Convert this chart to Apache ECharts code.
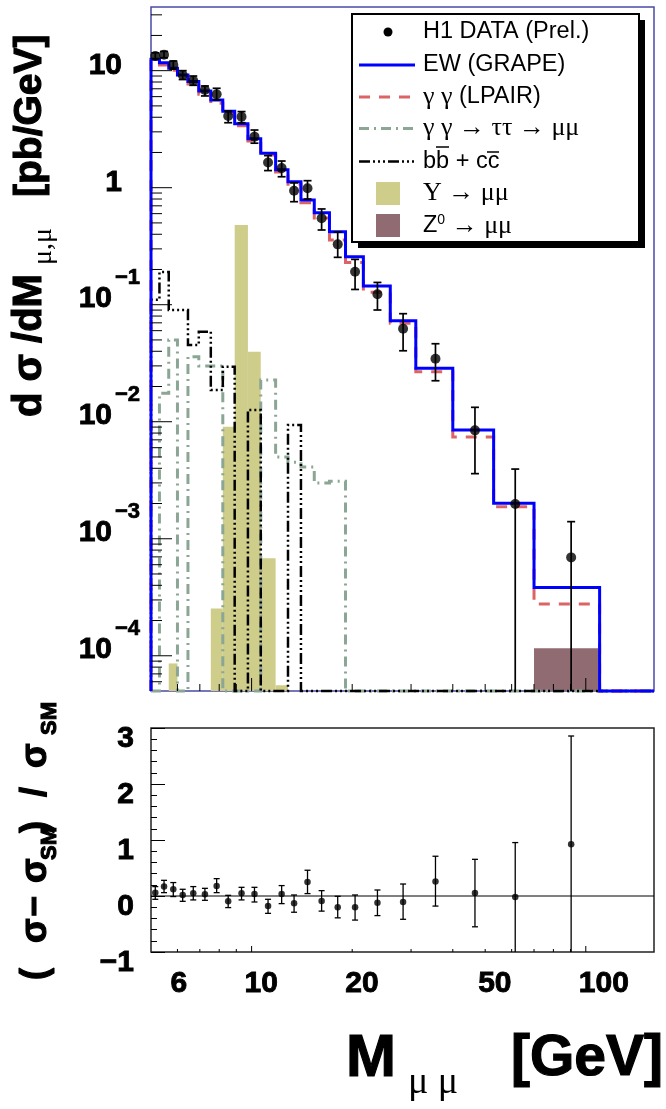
<!DOCTYPE html>
<html><head><meta charset="utf-8">
<script src="https://cdn.jsdelivr.net/npm/echarts@6.0.0/dist/echarts.min.js"></script>
<style>html,body{margin:0;padding:0;background:#fff}#c{width:666px;height:1109px}</style>
</head><body><div id="c"></div>
<script>
// ---------------- DATA ----------------
const binEdges = [5, 5.3, 5.65, 6.0, 6.45, 6.95, 7.55, 8.2, 8.9, 9.75, 10.65, 11.8, 12.85, 14.05, 15.4, 17.1, 19.1, 21.6, 26, 31, 40, 53, 70, 110, 160];
const ewGrape = [12.5, 11.7, 10.5, 9.19, 8.1, 6.7, 5.62, 4.5, 3.52, 2.62, 1.97, 1.42, 1.125, 0.785, 0.611, 0.42, 0.257, 0.1445, 0.073, 0.0286, 0.00848, 0.00201, 0.000384, 0];
const lpair = [12.0, 11.2, 10.1, 8.8, 7.7, 6.3, 5.27, 4.32, 3.38, 2.5, 1.90, 1.36, 1.07, 0.744, 0.55, 0.357, 0.229, 0.128, 0.0694, 0.0268, 0.0074, 0.00188, 0.000277, 0];
const tautau = [0, 0.0175, 0.05, 0, 0.036, 0.03, 0.03, 0, 0, 0, 0.0227, 0.005, 0.0045, 0.0041, 0.003, 0.0031, 0, 0, 0, 0, 0, 0, 0, 0];
const bbcc = [0.11, 0.19, 0.09, 0.09, 0.0453, 0.0588, 0.0187, 0.0295, 0, 0.0126, 0, 0, 0.0094, 0, 0, 0, 0, 0, 0, 0, 0, 0, 0, 0];
const upsilon = [0, 0, 0.000086, 0, 0, 0, 0.000254, 0.00906, 0.48, 0.0397, 0.00068, 0.000056, 0, 0, 0, 0, 0, 0, 0, 0, 0, 0, 0, 0];
const z0 = [0, 0, 0, 0, 0, 0, 0, 0, 0, 0, 0, 0, 0, 0, 0, 0, 0, 0, 0, 0, 0, 0, 0.000116, 0];

const massPts = [5.15, 5.47, 5.83, 6.22, 6.69, 7.25, 7.86, 8.51, 9.33, 10.2, 11.2, 12.3, 13.4, 14.7, 16.2, 18.1, 20.4, 23.8, 28.4, 35.5, 46.6, 61.5, 90.4];
const h1Data = [13.35, 13.7, 11.2, 9.19, 8.21, 6.84, 6.28, 4.10, 4.04, 2.73, 1.64, 1.47, 0.943, 0.988, 0.548, 0.328, 0.191, 0.1227, 0.0624, 0.0345, 0.00844, 0.00198, 0.000693];
const h1Lo = [12.6, 12.9, 10.3, 8.4, 7.5, 6.08, 5.62, 3.59, 3.59, 2.40, 1.40, 1.24, 0.759, 0.80, 0.435, 0.254, 0.135, 0.0901, 0.0404, 0.0224, 0.0036, 0, 0];
const h1Hi = [14.2, 14.6, 12.1, 10.0, 9.0, 7.40, 7.07, 4.52, 4.47, 3.11, 1.88, 1.69, 1.10, 1.148, 0.658, 0.418, 0.244, 0.155, 0.0838, 0.0464, 0.01328, 0.00394, 0.0014];

const ratio = [0.06, 0.17, 0.12, 0.02, 0.05, 0.03, 0.18, -0.095, 0.05, 0.036, -0.18, 0.036, -0.13, 0.25, -0.09, -0.2, -0.2, -0.12, -0.107, 0.257, 0.054, -0.018, 0.923];
const ratioLo = [-0.059, 0.06, -0.01, -0.095, -0.07, -0.077, 0.06, -0.207, -0.07, -0.107, -0.31, -0.136, -0.29, 0.043, -0.27, -0.39, -0.43, -0.35, -0.416, -0.18, -0.55, -1, -1];
const ratioHi = [0.168, 0.28, 0.24, 0.12, 0.168, 0.137, 0.31, 0.012, 0.155, 0.155, -0.059, 0.186, 0.018, 0.46, 0.096, -0.005, 0.018, 0.107, 0.214, 0.71, 0.655, 0.954, 2.857];

const yTickVals = [10, 1, 0.1, 0.01, 0.001, 0.0001];
const yLabelBase = ['10', '1', '10', '10', '10', '10'];
const yLabelExp = ['', '', '\u22121', '\u22122', '\u22123', '\u22124'];
const xLabelVals = [6, 10, 20, 50, 100];
const xLabelText = ['6', '10', '20', '50', '100'];
const xMajorTicks = [10, 100];
const xMinorTicks = [6, 7, 8, 9, 20, 30, 40, 50, 60, 70, 80, 90];

// ---------------- SETUP ----------------
const X_MIN = 5, X_MAX = 160, Y_MIN = 5e-5, Y_MAX = 35;
const FONT = "'Liberation Sans', Arial, Helvetica, sans-serif";
const SERIF = "'Liberation Serif', 'Times New Roman', serif";
const C_BLUE = '#0000ff', C_RED = '#dc6464', C_GREY = '#8ba695', C_KHAKI = '#cfcd8a', C_MAUVE = '#906b72';
const DASH_RED = [11, 9], DASH_GREY = [10, 5, 2, 5], DASH_BLACK = [11, 3, 2, 3, 2, 3, 2, 3];
const BOLD = { fontWeight: 'bold', stroke: '#000', lineWidth: 0.9 };

const clampY = v => (v > Y_MIN ? Math.min(v, Y_MAX) : Y_MIN);

// minor ticks on log y axis (axis decoration, not data)
const yMajorTicks = [1e-4, 1e-3, 1e-2, 1e-1, 1, 10];
const yMinorTicks = [];
for (let e = -5; e <= 1; e++) for (let k = 2; k <= 9; k++) { const v = k * Math.pow(10, e); if (v > Y_MIN && v < Y_MAX) yMinorTicks.push(v); }

function stepSeries(name, vals, color, width, dash, z) {
  return {
    type: 'custom', name, xAxisIndex: 0, yAxisIndex: 0, silent: true, z,
    data: [[X_MIN, Y_MIN]],
    renderItem(params, api) {
      const pts = [api.coord([binEdges[0], Y_MIN])];
      for (let i = 0; i < vals.length; i++) {
        const v = clampY(vals[i]);
        pts.push(api.coord([binEdges[i], v]));
        pts.push(api.coord([binEdges[i + 1], v]));
      }
      pts.push(api.coord([binEdges[binEdges.length - 1], Y_MIN]));
      return { type: 'polyline', shape: { points: pts }, style: { stroke: color, lineWidth: width, lineDash: dash, fill: null } };
    }
  };
}
function fillSeries(name, vals, color, z) {
  const items = [];
  vals.forEach((v, i) => { if (v > 0) items.push([binEdges[i], v, binEdges[i + 1]]); });
  return {
    type: 'custom', name, xAxisIndex: 0, yAxisIndex: 0, silent: true, z,
    data: items,
    renderItem(params, api) {
      const p1 = api.coord([api.value(0), api.value(1)]);
      const p2 = api.coord([api.value(2), Y_MIN]);
      return { type: 'rect', shape: { x: p1[0], y: p1[1], width: p2[0] - p1[0], height: p2[1] - p1[1] }, style: { fill: color } };
    }
  };
}
function errSeries(xi, yi, xs, ys, lo, hi, yLow, capW, lw, z) {
  return {
    type: 'custom', xAxisIndex: xi, yAxisIndex: yi, silent: true, z,
    data: xs.map((x, i) => [x, ys[i], i]),
    renderItem(params, api) {
      const i = api.value(2), x = api.value(0);
      const pH = api.coord([x, hi[i]]);
      const pL = api.coord([x, Math.max(lo[i], yLow)]);
      const ch = [{ type: 'line', shape: { x1: pH[0], y1: pH[1], x2: pL[0], y2: pL[1] }, style: { stroke: '#000', lineWidth: lw } },
                  { type: 'line', shape: { x1: pH[0] - capW, y1: pH[1], x2: pH[0] + capW, y2: pH[1] }, style: { stroke: '#000', lineWidth: lw } }];
      if (lo[i] > yLow) ch.push({ type: 'line', shape: { x1: pL[0] - capW, y1: pL[1], x2: pL[0] + capW, y2: pL[1] }, style: { stroke: '#000', lineWidth: lw } });
      return { type: 'group', children: ch };
    }
  };
}
function tickSeries(xi, yi, vals, len, horizontal, yRef, z) {
  return {
    type: 'custom', xAxisIndex: xi, yAxisIndex: yi, silent: true, z,
    data: vals.map(v => horizontal ? [X_MIN, v] : [v, yRef]),
    renderItem(params, api) {
      const p = api.coord([api.value(0), api.value(1)]);
      const shape = horizontal ? { x1: p[0], y1: p[1], x2: p[0] + len, y2: p[1] } : { x1: p[0], y1: p[1], x2: p[0], y2: p[1] - len };
      return { type: 'line', shape, style: { stroke: '#000', lineWidth: 1 } };
    }
  };
}

const series = [
  fillSeries('Y -> mumu', upsilon, C_KHAKI, 1),
  fillSeries('Z0 -> mumu', z0, C_MAUVE, 1),
  stepSeries('gamma gamma -> tau tau -> mu mu', tautau, C_GREY, 3, DASH_GREY, 2),
  stepSeries('bb + cc', bbcc, '#000', 2.5, DASH_BLACK, 3),
  stepSeries('gamma gamma (LPAIR)', lpair, C_RED, 3, DASH_RED, 4),
  stepSeries('EW (GRAPE)', ewGrape, C_BLUE, 3, null, 5),
  errSeries(0, 0, massPts, h1Data, h1Lo, h1Hi, Y_MIN, 4, 1.7, 6),
  { type: 'scatter', name: 'H1 DATA (Prel.)', xAxisIndex: 0, yAxisIndex: 0, symbol: 'circle', symbolSize: 10, silent: true, z: 7,
    itemStyle: { color: '#000' }, data: massPts.map((m, i) => [m, h1Data[i]]) },
  // top panel ticks
  tickSeries(0, 0, yMajorTicks, 21, true, 0, 8),
  tickSeries(0, 0, yMinorTicks, 11, true, 0, 8),
  tickSeries(0, 0, xMajorTicks, 13, false, Y_MIN, 8),
  tickSeries(0, 0, xMinorTicks, 7, false, Y_MIN, 8),
  // top y labels
  { type: 'custom', xAxisIndex: 0, yAxisIndex: 0, silent: true, z: 9,
    data: yTickVals.map((v, i) => [X_MIN, v, i]),
    renderItem(params, api) {
      const i = api.value(2);
      const p = api.coord([X_MIN, api.value(1)]);
      const st = Object.assign({ fontSize: 30, fontFamily: FONT, fill: '#000', verticalAlign: 'middle' }, BOLD);
      if (!yLabelExp[i]) return { type: 'text', x: p[0] - 29, y: p[1] - 5, style: Object.assign({ text: yLabelBase[i], align: 'right' }, st) };
      return { type: 'group', children: [
        { type: 'text', x: p[0] - 39, y: p[1] - 6, style: Object.assign({ text: yLabelBase[i], align: 'right' }, st) },
        { type: 'text', x: p[0] - 36, y: p[1] - 27, style: Object.assign({ text: yLabelExp[i], align: 'left' }, st, { fontSize: 22, lineWidth: 0.7 }) }
      ] };
    } },
  // ratio panel
  { type: 'line', xAxisIndex: 1, yAxisIndex: 1, silent: true, symbol: 'none', z: 3,
    lineStyle: { color: '#000', width: 1 }, data: [[X_MIN, 0], [X_MAX, 0]] },
  errSeries(1, 1, massPts, ratio, ratioLo, ratioHi, -1, 3, 1.3, 6),
  { type: 'scatter', xAxisIndex: 1, yAxisIndex: 1, symbol: 'circle', symbolSize: 6.5, silent: true, z: 7,
    itemStyle: { color: '#000' }, data: massPts.map((m, i) => [m, ratio[i]]) },
  tickSeries(1, 1, xMajorTicks, 6, false, -1, 8),
  tickSeries(1, 1, xMinorTicks, 3, false, -1, 8),
  { type: 'custom', xAxisIndex: 1, yAxisIndex: 1, silent: true, z: 9,
    data: xLabelVals.map((v, i) => [v, -1, i]),
    renderItem(params, api) {
      const p = api.coord([api.value(0), -1]);
      return { type: 'text', x: p[0] - 7, y: p[1] + 31.5, style: Object.assign({ text: xLabelText[api.value(2)], fontSize: 30, fontFamily: FONT, fill: '#000', align: 'left', verticalAlign: 'middle' }, BOLD) };
    } }
];

// ---------------- GRAPHICS: legend + titles ----------------
const LX = 423;
const T = (x, y, text, extra) => Object.assign({ type: 'text', x, y, z: 102, style: Object.assign({ text, fontSize: 23.5, fontFamily: FONT, fill: '#000', align: 'left', verticalAlign: 'middle' }, extra || {}) });
const rot = (x, y, text, size, family, bold) => ({ type: 'text', x, y, rotation: Math.PI / 2, z: 102,
  style: Object.assign({ text, fontSize: size, fontFamily: family, fontWeight: bold ? 'bold' : 'normal', fill: '#000', align: 'left', verticalAlign: 'middle' }, bold ? { stroke: '#000', lineWidth: 1.1 } : {}) });

const graphic = [
  { type: 'rect', z: 100, shape: { x: 358, y: 20, width: 287, height: 228 }, style: { fill: '#000' } },
  { type: 'rect', z: 101, shape: { x: 352, y: 14, width: 287, height: 228 }, style: { fill: '#fff', stroke: '#000', lineWidth: 2 } },
  { type: 'circle', z: 102, shape: { cx: 388, cy: 32, r: 4.5 }, style: { fill: '#000' } },
  T(LX, 32, 'H1 DATA (Prel.)'),
  { type: 'line', z: 102, shape: { x1: 359, y1: 65, x2: 415, y2: 65 }, style: { stroke: C_BLUE, lineWidth: 3 } },
  T(LX, 65, 'EW (GRAPE)'),
  { type: 'line', z: 102, shape: { x1: 359, y1: 97, x2: 415, y2: 97 }, style: { stroke: C_RED, lineWidth: 3, lineDash: DASH_RED } },
  T(LX, 97, '{g|\u03b3 \u03b3} {t|(LPAIR)}', { rich: { g: { fontFamily: SERIF, fontSize: 26 }, t: { fontFamily: FONT, fontSize: 23.5 } } }),
  { type: 'line', z: 102, shape: { x1: 359, y1: 128.5, x2: 415, y2: 128.5 }, style: { stroke: C_GREY, lineWidth: 3, lineDash: DASH_GREY } },
  T(LX, 128.5, '\u03b3 \u03b3 \u2192 \u03c4\u03c4 \u2192 \u03bc\u03bc', { fontFamily: SERIF, fontSize: 26 }),
  { type: 'line', z: 102, shape: { x1: 359, y1: 161.5, x2: 415, y2: 161.5 }, style: { stroke: '#000', lineWidth: 2.5, lineDash: DASH_BLACK } },
  T(LX, 161.5, 'bb + cc'),
  { type: 'line', z: 102, shape: { x1: 436, y1: 147, x2: 449, y2: 147 }, style: { stroke: '#000', lineWidth: 1.5 } },
  { type: 'line', z: 102, shape: { x1: 487, y1: 152, x2: 499, y2: 152 }, style: { stroke: '#000', lineWidth: 1.5 } },
  { type: 'rect', z: 102, shape: { x: 376, y: 182, width: 24, height: 23 }, style: { fill: C_KHAKI } },
  T(LX, 193.5, '\u03a5 \u2192 \u03bc\u03bc', { fontFamily: SERIF, fontSize: 26 }),
  { type: 'rect', z: 102, shape: { x: 376, y: 214, width: 24, height: 23 }, style: { fill: C_MAUVE } },
  T(LX, 226, '{t|Z}{s|0}{g| \u2192 \u03bc\u03bc}', { rich: { t: { fontFamily: FONT, fontSize: 23.5 }, s: { fontFamily: FONT, fontSize: 14, verticalAlign: 'top' }, g: { fontFamily: SERIF, fontSize: 26 } } }),
  // top y title
  rot(30, 417, 'd \u03c3 /dM', 40, FONT, true),
  rot(44, 265, '\u03bc,\u03bc', 28, SERIF, false),
  rot(30, 197, '[pb/GeV]', 39, FONT, true),
  // ratio y title
  rot(36, 980, '(', 36, FONT, true),
  rot(36, 943, '\u03c3', 36, FONT, true),
  rot(36, 917, '\u2212', 36, FONT, true),
  rot(36, 883, '\u03c3', 36, FONT, true),
  rot(50, 860, 'SM', 22, FONT, true),
  rot(36, 833, ')', 36, FONT, true),
  rot(36, 797, '/', 36, FONT, true),
  rot(36, 768, '\u03c3', 36, FONT, true),
  rot(50, 735, 'SM', 22, FONT, true),
  // x title
  T(346, 1059, 'M', { fontSize: 60, fontWeight: 'bold', stroke: '#000', lineWidth: 1.2 }),
  T(408, 1083, '\u03bc \u03bc', { fontSize: 38, fontFamily: SERIF }),
  T(511, 1059, '[GeV]', { fontSize: 57, fontWeight: 'bold', stroke: '#000', lineWidth: 1.2 })
];

const option = {
  animation: false,
  grid: [
    { left: 151, top: 7, width: 503, height: 684, show: true, borderColor: '#4a4aa6', borderWidth: 1.5, backgroundColor: 'transparent' },
    { left: 151, top: 728, width: 503, height: 224, show: true, borderColor: '#222', borderWidth: 1.5, backgroundColor: 'transparent' }
  ],
  xAxis: [
    { type: 'log', logBase: 10, gridIndex: 0, min: X_MIN, max: X_MAX, show: false },
    { type: 'log', logBase: 10, gridIndex: 1, min: X_MIN, max: X_MAX, show: false }
  ],
  yAxis: [
    { type: 'log', logBase: 10, gridIndex: 0, min: Y_MIN, max: Y_MAX, show: false },
    { type: 'value', gridIndex: 1, min: -1, max: 3, interval: 1,
      axisLine: { show: false }, splitLine: { show: false },
      axisTick: { show: true, inside: true, length: 14, lineStyle: { color: '#000', width: 1 } },
      minorTick: { show: true, splitNumber: 5, length: 6, lineStyle: { color: '#000', width: 1 } },
      axisLabel: { show: true, margin: 17, fontSize: 30, fontWeight: 'bold', fontFamily: FONT, color: '#000', verticalAlign: 'top', lineHeight: 21,
        textBorderColor: '#000', textBorderWidth: 0.9,
        formatter: v => (v < 0 ? '\u2212' + Math.abs(v) : String(v)) } }
  ],
  series,
  graphic
};

const chart = echarts.init(document.getElementById('c'), null, { renderer: 'canvas', width: 666, height: 1109 });
chart.setOption(option);
</script></body></html>
